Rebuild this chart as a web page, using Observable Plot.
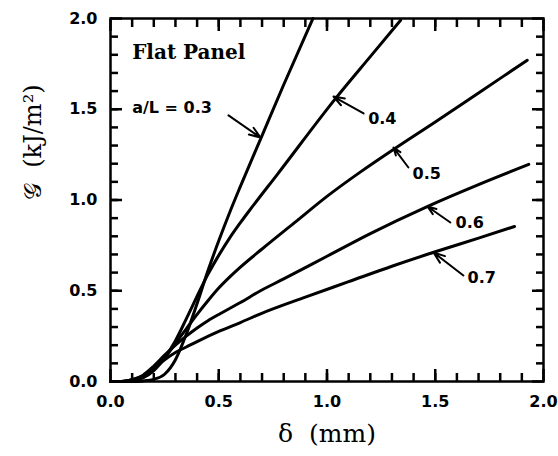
<!DOCTYPE html>
<html>
<head>
<meta charset="utf-8">
<script src="https://cdn.jsdelivr.net/npm/d3@7"></script>
<script src="https://cdn.jsdelivr.net/npm/@observablehq/plot@0.6"></script>
<style>
  html, body { margin: 0; padding: 0; background: #fff; overflow: hidden; }
</style>
</head>
<body>
<div id="chart"></div>
<script>
// Series: a/L ratio curves, delta (mm) vs G (kJ/m^2)
const d03 = [0.0, 0.10, 0.15, 0.20, 0.25, 0.30, 0.35, 0.40, 0.45, 0.50, 0.55, 0.60, 0.70, 0.80, 0.935];
const g03 = [0.0, 0.0, 0.003, 0.012, 0.04, 0.12, 0.26, 0.43, 0.61, 0.775, 0.93, 1.075, 1.355, 1.635, 2.0];

const d04 = [0.0, 0.05, 0.10, 0.15, 0.20, 0.25, 0.30, 0.35, 0.40, 0.45, 0.50, 0.55, 0.60, 0.65, 0.77, 1.04, 1.20, 1.34];
const g04 = [0.0, 0.0, 0.005, 0.02, 0.06, 0.13, 0.225, 0.345, 0.47, 0.59, 0.695, 0.79, 0.875, 0.955, 1.14, 1.56, 1.79, 1.99];

const d05 = [0.0, 0.05, 0.10, 0.15, 0.20, 0.25, 0.30, 0.35, 0.40, 0.45, 0.50, 0.55, 0.60, 0.70, 0.85, 1.00, 1.155, 1.309, 1.50, 1.70, 1.925];
const g05 = [0.0, 0.0, 0.008, 0.03, 0.07, 0.13, 0.21, 0.29, 0.37, 0.445, 0.515, 0.575, 0.63, 0.73, 0.875, 1.02, 1.155, 1.28, 1.43, 1.59, 1.77];

const d06 = [0.0, 0.05, 0.10, 0.15, 0.20, 0.25, 0.30, 0.35, 0.40, 0.45, 0.508, 0.60, 0.693, 0.80, 1.00, 1.20, 1.463, 1.70, 1.932];
const g06 = [0.0, 0.0, 0.01, 0.035, 0.085, 0.145, 0.20, 0.25, 0.295, 0.335, 0.375, 0.435, 0.50, 0.565, 0.69, 0.815, 0.964, 1.085, 1.196];

const d07 = [0.0, 0.05, 0.10, 0.15, 0.20, 0.25, 0.30, 0.35, 0.40, 0.508, 0.60, 0.693, 0.90, 1.10, 1.30, 1.493, 1.70, 1.866];
const g07 = [0.0, 0.0, 0.01, 0.03, 0.07, 0.12, 0.16, 0.19, 0.22, 0.28, 0.325, 0.373, 0.465, 0.55, 0.635, 0.712, 0.79, 0.854];

const seriesNames = ["0.3", "0.4", "0.5", "0.6", "0.7"];
const seriesX = [d03, d04, d05, d06, d07];
const seriesY = [g03, g04, g05, g06, g07];

// Annotation labels and leader arrows (data units)
const labelText = ["a/L = 0.3", "0.4", "0.5", "0.6", "0.7"];
const labelX = [0.10, 1.19, 1.395, 1.594, 1.649];
const labelY = [1.51, 1.449, 1.146, 0.876, 0.573];
const arrowX1 = [0.545, 1.169, 1.376, 1.570, 1.630];
const arrowY1 = [1.466, 1.477, 1.179, 0.876, 0.584];
const arrowX2 = [0.693, 1.03, 1.307, 1.464, 1.492];
const arrowY2 = [1.344, 1.57, 1.289, 0.964, 0.711];

const titleText = "Flat Panel";
const titleX = 0.10, titleY = 1.813;

const xTicks = [0, 0.5, 1.0, 1.5, 2.0];
const yTicks = [0, 0.5, 1.0, 1.5, 2.0];
const minorTicks = d3.range(1, 20).map(i => i / 10);

const xLabel = "\u03B4\u00A0\u00A0(mm)";
const yLabel = "\uD835\uDCA2\u00A0\u00A0(kJ/m\u00B2)";

const rows = [];
seriesNames.forEach((name, i) => {
  seriesX[i].forEach((x, j) => rows.push({series: name, x, y: seriesY[i][j]}));
});
const labels = labelText.map((t, i) => ({t, x: labelX[i], y: labelY[i]}));
const arrows = arrowX1.map((x1, i) => ({x1, y1: arrowY1[i], x2: arrowX2[i], y2: arrowY2[i]}));

const numFont = {fontFamily: "DejaVu Sans", fontWeight: "bold", fontSize: 16};
const minorTick = {ticks: minorTicks, tickSize: -8, text: null, stroke: "#000", strokeWidth: 2.5};
const majorTick = {tickSize: -12, text: null, stroke: "#000", strokeWidth: 2.5};

const chart = Plot.plot({
  width: 558,
  height: 456,
  marginLeft: 110,
  marginRight: 15,
  marginTop: 18,
  marginBottom: 75,
  style: {background: "#fff", color: "#000", fontFamily: "DejaVu Sans", fontSize: "16px", fontWeight: "bold"},
  x: {domain: [0, 2], label: null},
  y: {domain: [0, 2], label: null},
  marks: [
    Plot.line(rows, {x: "x", y: "y", z: "series", stroke: "#000", strokeWidth: 3, curve: "monotone-x"}),
    Plot.frame({stroke: "#000", strokeWidth: 2.5}),
    // tick labels
    Plot.axisX({anchor: "bottom", ticks: xTicks, tickFormat: d3.format(".1f"), tickSize: 0, tickPadding: 14, fontSize: 16}),
    Plot.axisY({anchor: "left", ticks: yTicks, tickFormat: d3.format(".1f"), tickSize: 0, tickPadding: 13, fontSize: 16}),
    // inward minor ticks on all four sides
    Plot.axisX({anchor: "bottom", ...minorTick}),
    Plot.axisX({anchor: "top", ...minorTick}),
    Plot.axisY({anchor: "left", ...minorTick}),
    Plot.axisY({anchor: "right", ...minorTick}),
    // inward major ticks on all four sides
    Plot.axisX({anchor: "bottom", ...majorTick, ticks: xTicks}),
    Plot.axisX({anchor: "top", ...majorTick, ticks: xTicks}),
    Plot.axisY({anchor: "left", ...majorTick, ticks: yTicks}),
    Plot.axisY({anchor: "right", ...majorTick, ticks: yTicks}),
    // annotations
    Plot.arrow(arrows, {x1: "x1", y1: "y1", x2: "x2", y2: "y2", stroke: "#000", strokeWidth: 2, headLength: 9, headAngle: 40}),
    Plot.text(labels, {x: "x", y: "y", text: "t", textAnchor: "start", fill: "#000", ...numFont}),
    Plot.text([titleText], {x: titleX, y: titleY, text: d => d, textAnchor: "start", fill: "#000", fontFamily: "DejaVu Serif", fontWeight: "bold", fontSize: 20}),
    // axis titles
    Plot.text([xLabel], {frameAnchor: "bottom", text: d => d, dy: 60, fill: "#000", fontFamily: "DejaVu Serif", fontWeight: "normal", fontSize: 25}),
    Plot.text([yLabel], {frameAnchor: "left", text: d => d, dx: -77, rotate: -90, fill: "#000", fontFamily: "DejaVu Serif", fontWeight: "normal", fontSize: 24})
  ]
});
document.getElementById("chart").appendChild(chart);
</script>
</body>
</html>
